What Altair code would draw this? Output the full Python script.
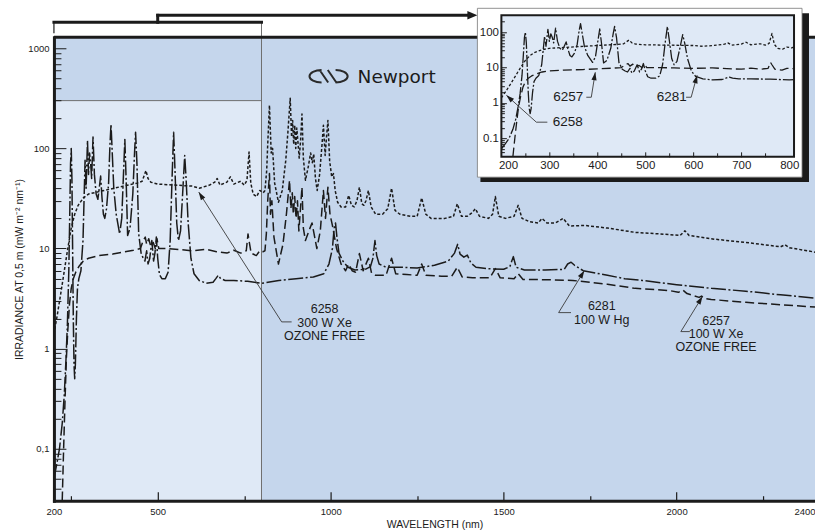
import math
import altair as alt
import pandas as pd

# ---------------- data: (wavelength nm, irradiance mW m-2 nm-1) ----------------
lamp_6258 = [  # 300 W Xe ozone free (dotted)
    (200, 1.4), (210, 2.2), (220, 3.6), (230, 6), (240, 10), (250, 16), (260, 22), (270, 27),
    (285, 32), (300, 35), (330, 37), (360, 39), (400, 42), (440, 45), (455, 47), (462, 55),
    (466, 60), (472, 50), (480, 46), (500, 44), (550, 43), (600, 42), (620, 40), (650, 43),
    (665, 46), (672, 50), (680, 43), (700, 46), (710, 52), (720, 44), (740, 47), (750, 43),
    (758, 48), (764, 92), (769, 45), (776, 35), (786, 33), (795, 38), (805, 36), (810, 38),
    (815, 60), (818, 110), (823, 270), (828, 90), (832, 100), (838, 45), (849, 29), (860, 38),
    (870, 75), (876, 140), (883, 316), (887, 130), (890, 190), (893, 110), (896, 170), (899, 100),
    (902, 160), (905, 120), (909, 80), (913, 120), (917, 220), (921, 80), (927, 48), (935, 65),
    (942, 90), (947, 72), (951, 88), (956, 50), (961, 38), (968, 55), (975, 110), (979, 170),
    (984, 85), (988, 130), (992, 190), (997, 75), (1003, 52), (1008, 56), (1013, 38), (1020, 29),
    (1030, 26), (1043, 26), (1052, 34), (1060, 27), (1068, 26), (1076, 30), (1083, 41), (1090, 28),
    (1096, 27), (1102, 30), (1109, 38), (1117, 26), (1130, 22), (1150, 22), (1165, 25), (1176, 40),
    (1186, 24), (1200, 22), (1230, 21), (1250, 21), (1263, 32), (1275, 22), (1290, 20), (1330, 20),
    (1355, 21), (1366, 28), (1378, 21), (1395, 21), (1410, 23), (1418, 25), (1430, 21), (1456, 20),
    (1468, 22), (1476, 33), (1486, 21), (1505, 20), (1530, 21), (1542, 27), (1553, 20), (1575, 18.5),
    (1600, 18), (1611, 20), (1625, 18), (1650, 18), (1672, 20), (1690, 16.8), (1735, 17), (1800, 16),
    (1880, 14.5), (1950, 14), (2010, 13.5), (2024, 15), (2036, 13.5), (2100, 12.5), (2200, 11.5),
    (2300, 10.4), (2313, 10.9), (2326, 10.2), (2400, 9.2),
]

lamp_6281 = [  # 100 W Hg (dash-dot)
    (200, 0.05), (208, 0.07), (216, 0.1), (224, 0.18), (230, 0.35), (235, 0.8), (239, 1.8),
    (243, 6), (246, 25), (248, 70), (250, 100), (252, 50), (254, 10), (256, 2), (258, 0.7),
    (260, 0.5), (262, 0.7), (265, 2), (268, 4), (272, 5), (278, 6), (284, 12), (287, 30),
    (290, 76), (293, 40), (297, 120), (300, 55), (303, 90), (306, 72), (309, 50), (313, 130),
    (317, 55), (322, 35), (327, 31), (331, 40), (335, 53), (339, 32), (343, 22), (347, 20),
    (352, 25), (358, 45), (362, 110), (365, 174), (368, 100), (373, 40), (380, 22), (390, 14),
    (396, 20), (401, 55), (405, 123), (409, 45), (413, 13.5), (420, 16), (428, 35), (433, 90),
    (436, 145), (440, 70), (445, 14), (452, 9), (458, 8), (463, 7.5), (468, 9.5), (472, 7),
    (477, 8), (483, 12), (488, 7.5), (492, 9), (496, 13), (500, 8), (505, 5.5), (512, 5),
    (522, 5), (530, 5.8), (536, 12), (541, 45), (546, 145), (550, 60), (555, 18), (560, 12),
    (566, 15), (572, 35), (578, 85), (582, 50), (588, 18), (596, 8), (605, 5.6), (620, 4.8),
    (640, 4.5), (660, 4.6), (668, 5.0), (675, 5.4), (682, 5.0), (695, 4.8), (720, 4.8),
    (760, 4.7), (800, 4.5), (810, 4.55), (850, 4.8), (900, 5.0), (950, 5.2), (980, 5.6),
    (995, 7), (1005, 10), (1010, 16), (1014, 18), (1018, 13), (1024, 9), (1035, 7.5),
    (1050, 6.5), (1070, 6.1), (1100, 6.2), (1115, 6.6), (1122, 8), (1128, 12), (1133, 8.5),
    (1140, 7), (1160, 6.5), (1200, 6.5), (1250, 6.4), (1300, 6.8), (1340, 7.5), (1358, 9),
    (1367, 11), (1374, 8.8), (1385, 8.2), (1395, 8.6), (1405, 7.2), (1420, 6.5), (1450, 6.3),
    (1500, 6.2), (1518, 6.6), (1528, 8.3), (1536, 6.5), (1560, 6.1), (1620, 6.1), (1675, 6.2),
    (1685, 7.0), (1695, 7.3), (1705, 6.8), (1730, 6.0), (1800, 5.4), (1850, 5.0), (1900, 4.8),
    (2000, 4.35), (2100, 4.0), (2200, 3.75), (2300, 3.45), (2400, 3.2),
]

lamp_6257 = [  # 100 W Xe ozone free (dashed)
    (224, 0.0305), (228, 0.1), (232, 0.3), (236, 0.8), (240, 1.5), (245, 2.8), (250, 4),
    (256, 5), (263, 5.8), (272, 6.6), (285, 7.5), (300, 8.0), (330, 8.5), (370, 8.8),
    (400, 9.2), (430, 9.6), (450, 10), (458, 12), (464, 13), (468, 11), (474, 12.5), (480, 10.5),
    (487, 11.5), (493, 10), (498, 12.5), (503, 10), (530, 10), (560, 9.8), (600, 9.5), (640, 9.8),
    (670, 9.3), (700, 9), (720, 9.6), (740, 9), (756, 9.5), (761, 14), (764, 12), (770, 9),
    (785, 8.5), (795, 9.5), (805, 9.3), (810, 9.5), (814, 14), (818, 30), (823, 56), (826, 22),
    (830, 30), (836, 13), (849, 7), (862, 11), (872, 22), (881, 48), (885, 25), (889, 36),
    (892, 22), (896, 33), (900, 20), (904, 30), (908, 15), (913, 26), (917, 41), (921, 16),
    (927, 12), (937, 15), (946, 18), (952, 14), (960, 10), (970, 15), (979, 38), (985, 20),
    (992, 41), (998, 22), (1005, 17), (1017, 10), (1030, 7), (1043, 6), (1052, 7), (1062, 6),
    (1072, 5.8), (1083, 8.9), (1094, 6), (1109, 8), (1118, 5.7), (1130, 5.4), (1160, 5.4),
    (1176, 8), (1188, 5.6), (1220, 5.5), (1250, 5.4), (1263, 7), (1275, 5.4), (1320, 5.3),
    (1350, 5.3), (1366, 6.5), (1380, 5.2), (1410, 5.1), (1460, 5.1), (1476, 6.3), (1490, 5.1),
    (1530, 5.0), (1542, 5.6), (1556, 4.9), (1600, 4.9), (1700, 4.8), (1800, 4.4), (1880, 4.0),
    (1980, 3.8), (2005, 3.65), (2018, 3.85), (2030, 3.55), (2065, 3.25), (2072, 3.35),
    (2085, 3.15), (2100, 3.1), (2200, 2.9), (2300, 2.75), (2400, 2.6),
]

# axis labels / ticks
x_labels_main = [200, 500, 1000, 1500, 2000, 2400]
x_ticks_main = [250, 500, 750, 1000, 1250, 1500, 1750, 2000, 2250]
y_labels_main = [0.1, 1, 10, 100, 1000]
y_ticks_main = [0.04, 0.05, 0.06, 0.07, 0.08, 0.09,
                0.1, 0.2, 0.3, 0.4, 0.5, 0.6, 0.7, 0.8, 0.9,
                1, 2, 3, 4, 5, 6, 7, 8, 9,
                10, 20, 30, 40, 50, 60, 70, 80, 90,
                100, 200, 300, 400, 500, 600, 700, 800, 900, 1000]
x_labels_in = [200, 300, 400, 500, 600, 700, 800]
x_ticks_in = [250, 300, 350, 400, 450, 500, 550, 600, 650, 700, 750]
y_labels_in = [0.1, 1, 10, 100]
y_ticks_in = [0.04, 0.05, 0.06, 0.07, 0.08, 0.09,
              0.1, 0.2, 0.3, 0.4, 0.5, 0.6, 0.7, 0.8, 0.9,
              1, 2, 3, 4, 5, 6, 7, 8, 9,
              10, 20, 30, 40, 50, 60, 70, 80, 90, 100, 200]

# annotations (data coordinates)
main_notes = [("6258", 982.4, 2.49), ("300 W Xe", 982.4, 1.82), ("OZONE FREE", 982.4, 1.35),
              ("6281", 1783.6, 2.67), ("100 W Hg", 1783.6, 1.94),
              ("6257", 2114.2, 1.89), ("100 W Xe", 2114.2, 1.40), ("OZONE FREE", 2114.2, 1.04)]
main_leaders = [(618.6, 36.6, 858.3, 1.85), (858.3, 1.85, 887.1, 1.85),
                (1733.1, 6.01, 1658.9, 2.29), (1658.9, 2.29, 1694.7, 2.29),
                (2074.6, 3.31, 2012.2, 1.48), (2012.2, 1.48, 2038.2, 1.48)]
main_tips = [(618.6, 36.6, 858.3, 1.85), (1733.1, 6.01, 1658.9, 2.29), (2074.6, 3.31, 2012.2, 1.48)]

inset_notes = [("6257", 339.5, 1.45), ("6281", 555.0, 1.45), ("6258", 338.4, 0.286)]
inset_leaders = [(395.7, 7.38, 387.4, 1.45), (387.4, 1.45, 377.0, 1.45),
                 (608.0, 6.07, 595.6, 1.45), (595.6, 1.45, 585.0, 1.45),
                 (210.4, 1.65, 272.9, 0.286), (272.9, 0.286, 295.8, 0.286)]
inset_tips = [(395.7, 7.38, 387.4, 1.45), (608.0, 6.07, 595.6, 1.45), (210.4, 1.65, 272.9, 0.286)]

# ---------------- styling / geometry ----------------
FONT = "Liberation Sans"
INK = "#1b1b1b"
BG_MAIN = "#c5d6ec"
BG_LIGHT = "#dfe9f6"
W, H = 762, 464
XM = [200, 2400]
YM = [0.0303, 1287]
XI = [200, 810]
YI = [0.03, 300]
XI_RANGE = [448, 741]
YI_RANGE = [119.7, -22]

ARROW = "M0,0L-2,-0.65L-2,0.65Z"
ARROW_BIG = "M0,0L-2,-0.85L-2,0.85Z"
LOGO = ("M-0.36,-0.32A0.62,0.32 0 0 0 -0.36,0.32"
        "M-0.46,-0.32L-0.02,0.32M-0.04,-0.32L0.40,0.32"
        "M0.36,-0.32A0.62,0.32 0 0 1 0.36,0.32")


def sx_main():
    return alt.Scale(domain=XM, nice=False, zero=False)


def sy_main():
    return alt.Scale(type="log", domain=YM, nice=False)


def sx_in():
    return alt.Scale(domain=XI, range=XI_RANGE, nice=False, zero=False)


def sy_in():
    return alt.Scale(type="log", domain=YI, range=YI_RANGE, nice=False)


def proj_main(nm, v):
    x = (nm - XM[0]) / (XM[1] - XM[0]) * W
    ly0, ly1 = math.log10(YM[0]), math.log10(YM[1])
    y = H - (math.log10(v) - ly0) / (ly1 - ly0) * H
    return x, y


def proj_in(nm, v):
    x = XI_RANGE[0] + (nm - XI[0]) / (XI[1] - XI[0]) * (XI_RANGE[1] - XI_RANGE[0])
    ly0, ly1 = math.log10(YI[0]), math.log10(YI[1])
    y = YI_RANGE[0] + (math.log10(v) - ly0) / (ly1 - ly0) * (YI_RANGE[1] - YI_RANGE[0])
    return x, y


def curve(pairs, dash, width, sx, sy, clip, maxwl=None):
    df = pd.DataFrame(pairs, columns=["wl", "irr"])
    if maxwl is not None:
        df = df[df.wl <= maxwl]
    return alt.Chart(df).mark_line(color=INK, strokeWidth=width, strokeDash=dash, clip=clip,
                                   strokeJoin="round").encode(
        x=alt.X("wl:Q", scale=sx, axis=None),
        y=alt.Y("irr:Q", scale=sy, axis=None),
    )


def segs(rows, sx, sy, color, width, cap="butt"):
    df = pd.DataFrame(rows, columns=["x", "y", "x2", "y2"])
    return alt.Chart(df).mark_rule(color=color, strokeWidth=width, strokeCap=cap).encode(
        x=alt.X("x:Q", scale=sx, axis=None), y=alt.Y("y:Q", scale=sy, axis=None),
        x2="x2:Q", y2="y2:Q")


def box(rows, sx, sy, **kw):
    df = pd.DataFrame(rows, columns=["x", "y", "x2", "y2"])
    return alt.Chart(df).mark_rect(**kw).encode(
        x=alt.X("x:Q", scale=sx, axis=None), y=alt.Y("y:Q", scale=sy, axis=None),
        x2="x2:Q", y2="y2:Q")


def texts(rows, sx, sy, size, align="center", font=FONT):
    df = pd.DataFrame(rows, columns=["label", "x", "y"])
    return alt.Chart(df).mark_text(font=font, fontSize=size, color=INK, align=align,
                                   baseline="middle").encode(
        x=alt.X("x:Q", scale=sx, axis=None), y=alt.Y("y:Q", scale=sy, axis=None),
        text="label:N")


def arrows(rows, sx, sy, proj, shape, size):
    recs = []
    for tx, ty, fx, fy in rows:
        px1, py1 = proj(tx, ty)
        px0, py0 = proj(fx, fy)
        ang = math.degrees(math.atan2(py1 - py0, px1 - px0)) % 360
        recs.append({"x": tx, "y": ty, "ang": ang})
    df = pd.DataFrame(recs)
    return alt.Chart(df).mark_point(shape=shape, size=size, filled=True, color=INK,
                                    strokeWidth=0, opacity=1).encode(
        x=alt.X("x:Q", scale=sx, axis=None), y=alt.Y("y:Q", scale=sy, axis=None),
        angle=alt.Angle("ang:Q", scale=None))


decade_test = "abs(log(datum.value)/LN10 - round(log(datum.value)/LN10)) < 0.001"
dummy = pd.DataFrame({"x": [XM[0]], "y": [1.0]})
dummy_in = pd.DataFrame({"x": [XI[0]], "y": [1.0]})

# ---------------- main plot ----------------
light_rect = box([(200, YM[0], 800, 300)], sx_main(), sy_main(), fill=BG_LIGHT)
gray_lines = segs([(200, 300, 800, 300), (800, 1816, 800, YM[0])], sx_main(), sy_main(), "#6e6e6e", 1)

c58 = curve(lamp_6258, [3, 2], 1.5, sx_main(), sy_main(), True)
c81 = curve(lamp_6281, [15, 2.5, 2, 2.5], 1.5, sx_main(), sy_main(), True)
c57 = curve(lamp_6257, [9, 4], 1.5, sx_main(), sy_main(), True)

top_border = segs([(200, YM[1], 2400, YM[1])], sx_main(), sy_main(), INK, 3)
bracket_thin = segs([(200, 1411, 200, 1816)], sx_main(), sy_main(), INK, 1.2)
bracket = segs([(200, 1816, 800, 1816), (500, 1816, 500, 2133), (500, 2133, 1400, 2133)],
               sx_main(), sy_main(), INK, 3, cap="square")
bracket_head = arrows([(1424, 2133, 1300, 2133)], sx_main(), sy_main(), proj_main, ARROW_BIG, 100)

leaders = segs(main_leaders, sx_main(), sy_main(), "#3a3a3a", 0.9)
heads = arrows(main_tips, sx_main(), sy_main(), proj_main, ARROW, 64)
notes = texts(main_notes, sx_main(), sy_main(), 12.5)

logo_df = pd.DataFrame({"x": [993.9], "y": [525.0]})
logo_mark = alt.Chart(logo_df).mark_point(shape=LOGO, size=1521, filled=False, color="#2a2a2a",
                                          strokeWidth=2, opacity=1).encode(
    x=alt.X("x:Q", scale=sx_main(), axis=None), y=alt.Y("y:Q", scale=sy_main(), axis=None))
logo_text = texts([("Newport", 1077.7, 513.0)], sx_main(), sy_main(), 18.5, align="left",
                  font="DejaVu Sans")

main_axes = alt.Chart(dummy).mark_point(opacity=0).encode(
    x=alt.X("x:Q", scale=sx_main(), axis=alt.Axis(
        orient="bottom", values=x_labels_main, format="d", tickSize=0, grid=False,
        domainColor=INK, domainWidth=3, domainCap="square",
        labelFont=FONT, labelFontSize=9.5, labelColor=INK, labelPadding=6, labelFlush=False,
        labelOverlap=False,
        labelAlign={"condition": {"test": "datum.value == 2400", "value": "right"}, "value": "center"},
        title="WAVELENGTH (nm)", titleFont=FONT, titleFontSize=10.5, titleFontWeight="normal",
        titleColor=INK, titlePadding=3, zindex=1)),
    y=alt.Y("y:Q", scale=sy_main(), axis=alt.Axis(
        orient="left", values=y_labels_main, tickSize=0, grid=False,
        domainColor=INK, domainWidth=3, domainCap="square",
        labelExpr="datum.value < 0.5 ? '0,1' : format(datum.value, 'd')",
        labelFont=FONT, labelFontSize=9.5, labelColor=INK, labelPadding=5, labelOverlap=False,
        title="IRRADIANCE AT 0,5 m (mW m\u207b\u00b2 nm\u207b\u00b9)", titleFont=FONT,
        titleFontSize=10.5, titleFontWeight="normal", titleColor=INK, titlePadding=3, zindex=1)),
)

main_ticks = alt.Chart(dummy).mark_point(opacity=0).encode(
    x=alt.X("x:Q", scale=sx_main(), axis=alt.Axis(
        orient="top", offset=-H, values=x_ticks_main, labels=False, domain=False, grid=False,
        tickColor=INK, tickWidth=1.2,
        tickSize={"condition": {"test": "datum.value % 500 == 0", "value": 9}, "value": 5},
        title=None, zindex=1)),
    y=alt.Y("y:Q", scale=sy_main(), axis=alt.Axis(
        orient="right", offset=-W, values=y_ticks_main, labels=False, domain=False, grid=False,
        tickColor=INK, tickWidth=1,
        tickSize={"condition": {"test": decade_test, "value": 12}, "value": 7},
        title=None, zindex=1)),
)

# ---------------- inset ----------------
shadow = box([(156.3, 0.0058, 841.2, 341.6)], sx_in(), sy_in(), fill=INK)
white_box = box([(150.0, 0.0080, 826.7, 472.8)], sx_in(), sy_in(), fill="white",
                stroke="#777777", strokeWidth=0.8)
inset_bg = box([(XI[0], YI[0], XI[1], YI[1])], sx_in(), sy_in(), fill=BG_LIGHT,
               stroke=INK, strokeWidth=2)

i58 = curve(lamp_6258, [2.7, 2], 1.3, sx_in(), sy_in(), False, XI[1])
i81 = curve(lamp_6281, [12, 2, 2, 2], 1.3, sx_in(), sy_in(), False, XI[1])
i57 = curve(lamp_6257, [9, 4], 1.3, sx_in(), sy_in(), False, XI[1])

i_leaders = segs(inset_leaders, sx_in(), sy_in(), "#3a3a3a", 0.9)
i_heads = arrows(inset_tips, sx_in(), sy_in(), proj_in, ARROW, 64)
i_notes = texts(inset_notes, sx_in(), sy_in(), 13.5)

inset_axes = alt.Chart(dummy_in).mark_point(opacity=0).encode(
    x=alt.X("x:Q", scale=sx_in(), axis=alt.Axis(
        orient="bottom", offset=YI_RANGE[0] - H, values=x_labels_in, format="d", tickSize=0,
        domain=False, grid=False, labelFont=FONT, labelFontSize=11.5, labelColor=INK,
        labelPadding=3, labelFlush=1, labelFlushOffset=3, labelOverlap=False, title=None, zindex=1)),
    y=alt.Y("y:Q", scale=sy_in(), axis=alt.Axis(
        orient="left", offset=-XI_RANGE[0], values=y_labels_in, tickSize=0, domain=False,
        grid=False, labelExpr="datum.value < 0.5 ? '0.1' : format(datum.value, 'd')",
        labelFont=FONT, labelFontSize=11.5, labelColor=INK, labelPadding=3, labelOverlap=False,
        title=None, zindex=1)),
)

inset_ticks = alt.Chart(dummy_in).mark_point(opacity=0).encode(
    x=alt.X("x:Q", scale=sx_in(), axis=alt.Axis(
        orient="top", offset=-YI_RANGE[0], values=x_ticks_in, labels=False, domain=False,
        grid=False, tickColor=INK, tickWidth=1,
        tickSize={"condition": {"test": "datum.value % 100 == 0", "value": 5}, "value": 4},
        title=None, zindex=1)),
    y=alt.Y("y:Q", scale=sy_in(), axis=alt.Axis(
        orient="right", offset=XI_RANGE[0] - W, values=y_ticks_in, labels=False, domain=False,
        grid=False, tickColor=INK, tickWidth=1,
        tickSize={"condition": {"test": decade_test, "value": 5}, "value": 3},
        title=None, zindex=1)),
)

chart = alt.layer(
    light_rect, gray_lines, c58, c57, c81, top_border, bracket_thin, bracket, bracket_head,
    leaders, heads, notes, logo_mark, logo_text, main_axes, main_ticks,
    shadow, white_box, inset_bg, i58, i57, i81, i_leaders, i_heads, i_notes,
    inset_axes, inset_ticks,
).resolve_scale(x="independent", y="independent").properties(
    width=W, height=H,
    autosize=alt.AutoSizeParams(type="none"),
    padding={"left": 54, "top": 37, "right": 0, "bottom": 31},
    background="white",
).configure_view(fill=BG_MAIN, stroke="transparent").configure_axis(grid=False)

chart.save("out.html", embed_options={"renderer": "svg", "actions": False})
